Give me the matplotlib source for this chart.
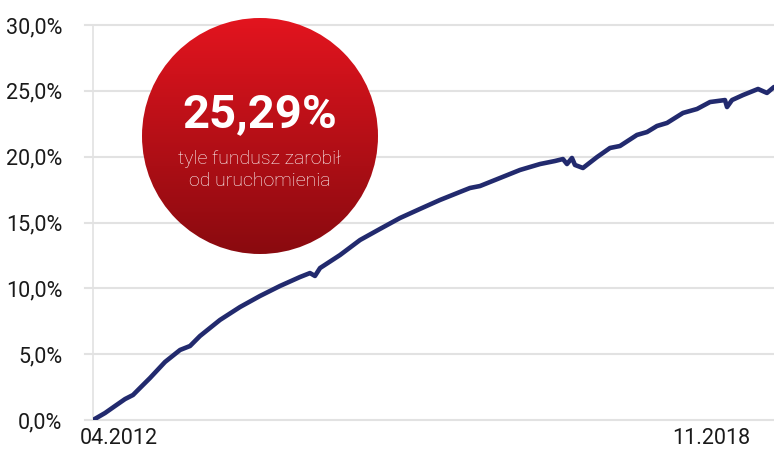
import matplotlib.pyplot as plt
from matplotlib.patches import Circle
import numpy as np

# decimal years and fund return (%)
years = [2012.250, 2012.378, 2012.484, 2012.591, 2012.676, 2012.750, 2012.857,
         2013.017, 2013.177, 2013.283, 2013.389, 2013.602, 2013.815, 2014.028,
         2014.241, 2014.454, 2014.560, 2014.613, 2014.667, 2014.880, 2015.093,
         2015.305, 2015.518, 2015.731, 2015.944, 2016.157, 2016.263, 2016.370,
         2016.583, 2016.796, 2017.009, 2017.168, 2017.253, 2017.296, 2017.349,
         2017.381, 2017.466, 2017.616, 2017.754, 2017.860, 2018.041, 2018.148,
         2018.254, 2018.361, 2018.531, 2018.680, 2018.819, 2018.978, 2019.000,
         2019.053, 2019.170, 2019.330, 2019.425, 2019.500]
returns = [0.00, 0.53, 1.06, 1.59, 1.90, 2.43, 3.19,
           4.41, 5.32, 5.62, 6.38, 7.60, 8.58, 9.42,
           10.18, 10.86, 11.16, 10.94, 11.54, 12.53, 13.67,
           14.51, 15.34, 16.03, 16.71, 17.32, 17.62, 17.77,
           18.38, 18.99, 19.44, 19.67, 19.82, 19.44, 19.90,
           19.37, 19.14, 19.97, 20.66, 20.81, 21.65, 21.87,
           22.33, 22.56, 23.32, 23.62, 24.15, 24.30, 23.77,
           24.30, 24.68, 25.14, 24.84, 25.29]

y_ticks = [0, 5, 10, 15, 20, 25, 30]
x_tick_pos = [2012.52, 2018.83]
x_tick_labels = ["04.2012", "11.2018"]

headline = "25,29%"
subline = "tyle fundusz zarobił\nod uruchomienia"

fig = plt.figure(figsize=(7.74, 4.53), dpi=100)
ax = fig.add_axes([93 / 774, 1 - 420 / 453, 681 / 774, 395 / 453])

for y in y_ticks:
    ax.axhline(y, xmin=-0.012, xmax=1, color="#e2e2e2", lw=1.5, clip_on=False, zorder=1)

ax.plot(years, returns, color="#222a6e", lw=3.3, solid_capstyle="round", zorder=3)

ax.set_xlim(years[0], years[-1])
ax.set_ylim(0, 30)
ax.set_yticks(y_ticks)
ax.set_yticklabels([f"{v:.1f}%".replace(".", ",") for v in y_ticks])
ax.set_xticks(x_tick_pos)
ax.set_xticklabels(x_tick_labels)
ax.tick_params(length=0, labelsize=15.5, colors="#1a1a1a", pad=0)
ax.tick_params(axis="y", pad=22)
ax.tick_params(axis="x", pad=6)
for lab in ax.get_xticklabels() + ax.get_yticklabels():
    lab.set_fontfamily("Roboto")

for s in ["top", "right", "bottom"]:
    ax.spines[s].set_visible(False)
ax.spines["left"].set_color("#e2e2e2")
ax.spines["left"].set_linewidth(1.2)

# red gradient badge
over = fig.add_axes([0, 0, 1, 1], zorder=5)
over.set_xlim(0, 774)
over.set_ylim(453, 0)
over.axis("off")
cx, cy, r = 260, 136, 118
grad = np.linspace(0, 1, 256).reshape(-1, 1)
top = np.array([0.89, 0.08, 0.12])
bot = np.array([0.54, 0.04, 0.06])
img = top + (bot - top) * grad[..., None]
im = over.imshow(img, extent=[cx - r, cx + r, cy + r, cy - r], aspect="auto", zorder=5)
circ = Circle((cx, cy), r, transform=over.transData, facecolor="none", edgecolor="none")
over.add_patch(circ)
im.set_clip_path(circ)

over.text(cx, 114, headline, color="white", fontsize=34, fontweight="bold",
          fontfamily="Roboto", ha="center", va="center", zorder=6)
over.text(cx, 170, subline, color="white", fontsize=14, fontweight="light",
          fontfamily="Roboto", ha="center", va="center", linespacing=1.3, zorder=6)

fig.savefig("out.png", dpi=100)
